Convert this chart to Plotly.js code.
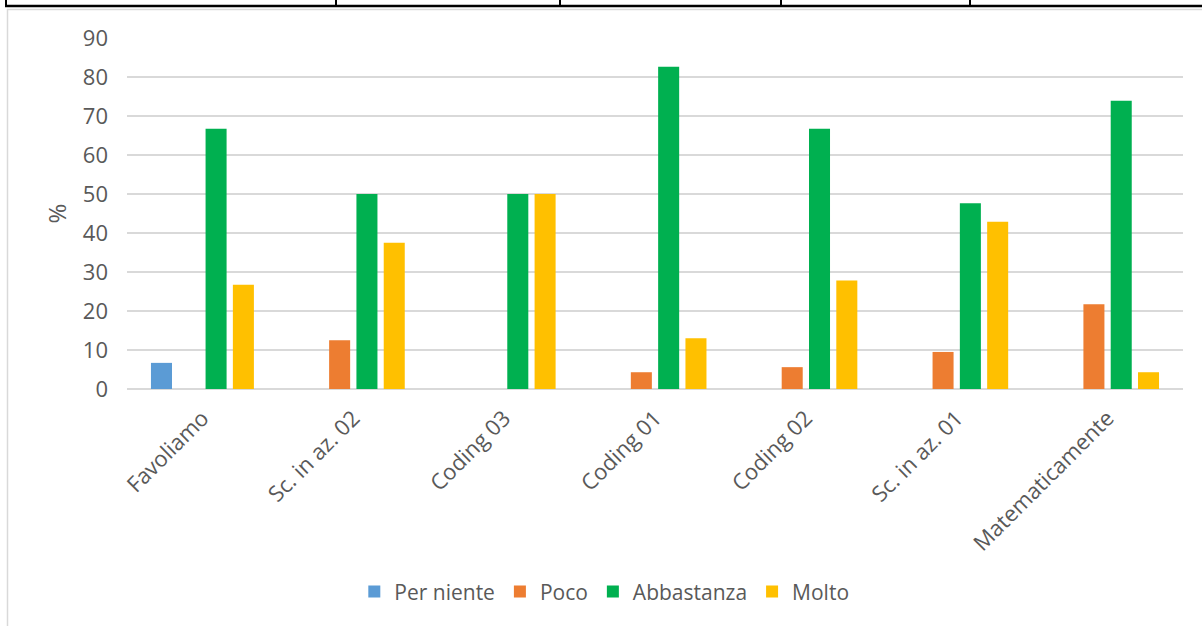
<!DOCTYPE html>
<html>
<head>
<meta charset="utf-8">
<script src="https://cdn.plot.ly/plotly-3.0.1.min.js"></script>
<style>
html,body{margin:0;padding:0;background:#fff;}
#chart{width:1202px;height:626px;}
</style>
</head>
<body>
<div id="chart"></div>
<script>
const categories = ["Favoliamo", "Sc. in az. 02", "Coding 03", "Coding 01", "Coding 02", "Sc. in az. 01", "Matematicamente"];
const perNiente = [6.7, 0, 0, 0, 0, 0, 0];
const poco = [0, 12.5, 0, 4.3, 5.6, 9.5, 21.7];
const abbastanza = [66.7, 50, 50, 82.6, 66.7, 47.6, 73.9];
const molto = [26.7, 37.5, 50, 13.0, 27.8, 42.9, 4.3];
const seriesNames = ["Per niente", "Poco", "Abbastanza", "Molto"];
const yTicks = [0, 10, 20, 30, 40, 50, 60, 70, 80, 90];

const colors = ["#5B9BD5", "#ED7D31", "#00B050", "#FFC000"];
const allSeries = [perNiente, poco, abbastanza, molto];

const traces = allSeries.map((vals, i) => ({
  type: "bar",
  name: seriesNames[i],
  x: categories,
  y: vals,
  marker: {color: colors[i], line: {width: 0}},
  hoverinfo: "x+y+name"
}));

// page geometry (pixel -> paper helpers for decorative frame)
const W = 1202, H = 626, ML = 127, MR = 19, MT = 38, MB = 237;
const PW = W - ML - MR, PH = H - MT - MB;
const px = v => (v - ML) / PW;
const py = v => (H - MB - v) / PH;

const shapes = [];
// table border fragment at the top
shapes.push({type: "line", xref: "paper", yref: "paper", x0: px(5), x1: px(1202), y0: py(6), y1: py(6), line: {color: "#000", width: 2.5}});
[6, 336, 560, 781, 970].forEach(x => {
  shapes.push({type: "line", xref: "paper", yref: "paper", x0: px(x), x1: px(x), y0: py(-2), y1: py(6), line: {color: "#000", width: 2}});
});
// chart frame (light gray)
shapes.push({type: "line", xref: "paper", yref: "paper", x0: px(7), x1: px(1202), y0: py(9.5), y1: py(9.5), line: {color: "#D9D9D9", width: 1.5}});
shapes.push({type: "line", xref: "paper", yref: "paper", x0: px(7.5), x1: px(7.5), y0: py(9), y1: py(630), line: {color: "#D9D9D9", width: 1.5}});

const font = "'Open Sans', Lato, sans-serif";

const layout = {
  width: W, height: H,
  margin: {l: ML, r: MR, t: MT, b: MB, pad: 0},
  paper_bgcolor: "#fff", plot_bgcolor: "#fff",
  font: {family: font, size: 21, color: "#595959"},
  barmode: "group",
  bargap: 0.276,
  bargroupgap: 0.23,
  showlegend: true,
  legend: {
    orientation: "h",
    x: 0.452, xanchor: "center",
    y: -0.578, yanchor: "middle",
    font: {family: font, size: 21, color: "#595959"},
    itemwidth: 30,
    traceorder: "normal"
  },
  xaxis: {
    type: "category",
    tickangle: -45,
    showgrid: false,
    showline: false,
    ticks: "",
    ticklabelstandoff: 11,
    ticklabelshift: 0,
    tickfont: {family: font, size: 22, color: "#595959"},
    fixedrange: true
  },
  yaxis: {
    range: [0, 90],
    tickvals: yTicks,
    ticktext: yTicks.map(String),
    showgrid: true,
    gridcolor: "#D9D9D9",
    gridwidth: 2,
    zeroline: true,
    zerolinecolor: "#D9D9D9",
    zerolinewidth: 2,
    showline: false,
    ticks: "",
    ticklabelstandoff: 18,
    tickfont: {family: font, size: 22, color: "#595959"},
    title: {text: "%", font: {family: font, size: 24, color: "#595959"}, standoff: 9},
    fixedrange: true
  },
  shapes: shapes
};

Plotly.newPlot("chart", traces, layout, {displayModeBar: false, staticPlot: true});
</script>
</body>
</html>
